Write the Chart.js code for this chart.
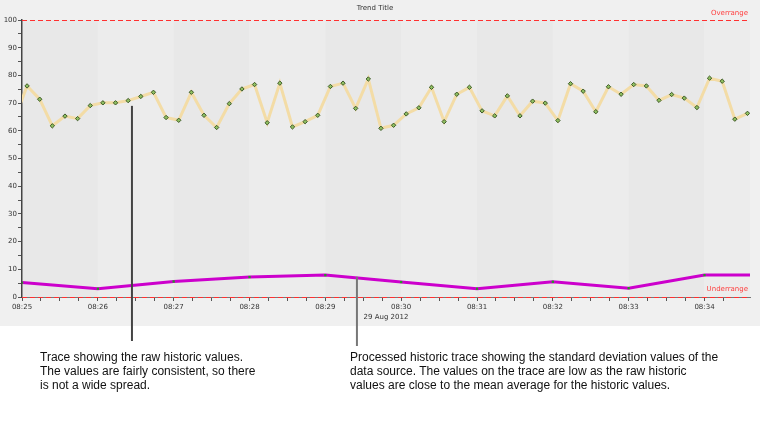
<!DOCTYPE html>
<html>
<head>
<meta charset="utf-8">
<script src="https://cdn.jsdelivr.net/npm/chart.js@4.4.1/dist/chart.umd.min.js"></script>
<style>
    body { margin: 0; background: #ffffff; }
    #wrap { position: relative; width: 760px; height: 430px; }
    .note {
        position: absolute;
        font-family: 'Liberation Sans', Arial, sans-serif;
        font-size: 12px;
        line-height: 14px;
        color: #111;
    }
</style>
</head>
<body>
<div id="wrap">
    <canvas id="trendChart" width="760" height="430"></canvas>
    <div class="note" style="left:40px; top:350px;">Trace showing the raw historic values.<br>The values are fairly consistent, so there<br>is not a wide spread.</div>
    <div class="note" style="left:350px; top:350px;">Processed historic trace showing the standard deviation values of the<br>data source. The values on the trace are low as the raw historic<br>values are close to the mean average for the historic values.</div>
</div>
<script>
// time axis is seconds after 08:25:00
const minuteLabels = ['08:25', '08:26', '08:27', '08:28', '08:29', '08:30', '08:31', '08:32', '08:33', '08:34'];
const axisEndSec = 576;

// raw samples every 10 s, first one just before the visible window
const rawStartSec = -6;
const rawStepSec = 10;
const rawValues = [
    64.0,
    76.2, 71.4, 61.8, 65.3, 64.4, 69.1, 70.1, 70.1, 70.9, 72.4, 73.9, 64.8, 63.8, 73.9,
    65.6, 61.2, 69.8, 75.1, 76.7, 62.9, 77.2, 61.4, 63.3, 65.6, 76.0, 77.2, 68.1, 78.7,
    60.9, 62.0, 66.1, 68.3, 75.7, 63.3, 73.2, 75.7, 67.2, 65.4, 72.6, 65.4, 70.7, 70.0,
    63.7, 77.0, 74.3, 66.9, 75.9, 73.2, 76.7, 76.2, 71.0, 73.1, 71.8, 68.4, 79.0, 77.9,
    64.2, 66.3
];

// processed (std deviation) trace, one value per minute, held to the end
const stdSeconds = [0, 60, 120, 180, 240, 300, 360, 420, 480, 540, 576];
const stdValues = [5.2, 3.0, 5.6, 7.2, 7.9, 5.4, 3.0, 5.5, 3.2, 7.9, 7.9];

const overrange = 100;
const underrange = 0;

// leader lines from the traces down to the notes
const leaders = [
    { sec: 87, value: 69, bottom: 341, color: '#444' },
    { sec: 265, value: 7.3, bottom: 346, color: '#777' }
];

const rawPoints = rawValues.map((v, i) => ({ x: rawStartSec + i * rawStepSec, y: v }));
const stdPoints = stdValues.map((v, i) => ({ x: stdSeconds[i], y: v }));

const fontFamily = 'DejaVu Sans';
const textColor = '#333';

const trendDecor = {
    id: 'trendDecor',
    beforeDraw(chart) {
        const { ctx, chartArea: area, scales: { x } } = chart;
        ctx.save();
        ctx.fillStyle = '#f0f0f0';
        ctx.fillRect(0, 0, chart.width, 326);
        for (let m = 0; m < minuteLabels.length; m++) {
            const x0 = x.getPixelForValue(m * 60);
            const x1 = Math.min(x.getPixelForValue((m + 1) * 60), area.right);
            ctx.fillStyle = m % 2 === 0 ? '#e8e8e8' : '#ececec';
            ctx.fillRect(x0, area.top, x1 - x0, area.bottom - area.top);
        }
        ctx.restore();
    },
    afterDraw(chart) {
        const { ctx, chartArea: area, scales: { x, y } } = chart;
        ctx.save();

        // limit lines
        ctx.strokeStyle = '#ff3030';
        ctx.lineWidth = 1;
        ctx.setLineDash([5, 3]);
        [overrange, underrange].forEach(v => {
            const py = Math.round(y.getPixelForValue(v)) + 0.5;
            ctx.beginPath();
            ctx.moveTo(area.left, py);
            ctx.lineTo(area.right, py);
            ctx.stroke();
        });
        ctx.setLineDash([]);

        ctx.fillStyle = '#ff4040';
        ctx.font = '7px ' + fontFamily;
        ctx.textAlign = 'right';
        ctx.textBaseline = 'middle';
        ctx.fillText('Overrange', area.right - 2, y.getPixelForValue(overrange) - 7);
        ctx.fillText('Underrange', area.right - 2, y.getPixelForValue(underrange) - 8);

        // leaders
        ctx.lineWidth = 2;
        leaders.forEach(l => {
            const px = x.getPixelForValue(l.sec);
            ctx.strokeStyle = l.color;
            ctx.beginPath();
            ctx.moveTo(px, y.getPixelForValue(l.value));
            ctx.lineTo(px, l.bottom);
            ctx.stroke();
        });
        ctx.restore();
    }
};

document.addEventListener('DOMContentLoaded', function() {
    const trendCtx = document.getElementById('trendChart').getContext('2d');
    new Chart(trendCtx, {
        type: 'line',
        data: {
            datasets: [
                {
                    label: 'Raw',
                    data: rawPoints,
                    borderColor: '#f3dca6',
                    borderWidth: 3,
                    tension: 0,
                    pointStyle: 'rectRot',
                    pointRadius: 2.2,
                    pointBorderWidth: 1,
                    pointBorderColor: '#3d5a2a',
                    pointBackgroundColor: '#8fbf60'
                },
                {
                    label: 'Std deviation',
                    data: stdPoints,
                    borderColor: '#cc00cc',
                    borderWidth: 3,
                    tension: 0,
                    pointStyle: 'rect',
                    pointRadius: stdPoints.map((p, i) => i === stdPoints.length - 1 ? 0 : 1.6),
                    pointBorderWidth: 0,
                    pointBackgroundColor: '#1fa01f'
                }
            ]
        },
        options: {
            responsive: false,
            animation: false,
            layout: {
                padding: { left: 0, right: 10, top: 0, bottom: 109 }
            },
            plugins: {
                legend: { display: false },
                tooltip: { enabled: false },
                title: {
                    display: true,
                    text: 'Trend Title',
                    color: textColor,
                    font: { family: fontFamily, size: 7, weight: 'normal' },
                    padding: { top: 4, bottom: 7.6 }
                }
            },
            scales: {
                x: {
                    type: 'linear',
                    min: 0,
                    max: axisEndSec,
                    afterFit: scale => { scale.height = 24; },
                    afterBuildTicks: scale => {
                        scale.ticks = scale.ticks.filter(t => t.value % 15 === 0);
                    },
                    border: { display: true, color: '#777', width: 1 },
                    grid: {
                        drawOnChartArea: false,
                        tickLength: 4,
                        tickColor: '#555'
                    },
                    ticks: {
                        stepSize: 15,
                        autoSkip: false,
                        maxRotation: 0,
                        padding: 2,
                        color: textColor,
                        font: { family: fontFamily, size: 7 },
                        callback: v => v % 60 === 0 ? minuteLabels[v / 60] : ''
                    },
                    title: {
                        display: true,
                        text: '29 Aug 2012',
                        color: textColor,
                        font: { family: fontFamily, size: 7 },
                        padding: 0
                    }
                },
                y: {
                    min: 0,
                    max: 100,
                    afterFit: scale => { scale.width = 22; },
                    border: { display: true, color: '#444', width: 1.5 },
                    grid: {
                        drawOnChartArea: false,
                        tickLength: 4,
                        tickColor: '#555'
                    },
                    ticks: {
                        stepSize: 5,
                        autoSkip: false,
                        padding: 1,
                        color: textColor,
                        font: { family: fontFamily, size: 7 },
                        callback: v => v % 10 === 0 ? v : ''
                    }
                }
            }
        },
        plugins: [trendDecor]
    });
});
</script>
</body>
</html>
